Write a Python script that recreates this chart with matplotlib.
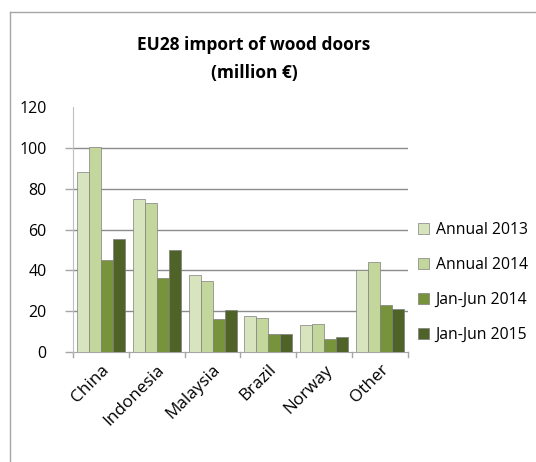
import matplotlib
matplotlib.use("Agg")
import matplotlib.pyplot as plt
from matplotlib.lines import Line2D
from matplotlib.patches import Patch
import numpy as np

categories = ["China", "Indonesia", "Malaysia", "Brazil", "Norway", "Other"]
series_names = ["Annual 2013", "Annual 2014", "Jan-Jun 2014", "Jan-Jun 2015"]
annual_2013 = [88.1, 75.0, 37.9, 17.4, 13.2, 40.3]
annual_2014 = [100.3, 72.8, 34.8, 16.7, 13.5, 44.1]
janjun_2014 = [44.9, 36.1, 16.3, 8.6, 6.2, 22.9]
janjun_2015 = [55.4, 49.8, 20.5, 8.6, 7.3, 21.1]
yticks = [0, 20, 40, 60, 80, 100, 120]
colors = ["#D7E4BD", "#C3D69B", "#77933C", "#4F6228"]

plt.rcParams['font.family'] = ['Open Sans', 'DejaVu Sans']

fig = plt.figure(figsize=(5.36, 4.62), dpi=100)
ax = fig.add_axes([73/536, 1-352/462, (408-73)/536, (352-107)/462])

data = [annual_2013, annual_2014, janjun_2014, janjun_2015]
x = np.arange(len(categories))
w = 0.215
for i, (vals, c, name) in enumerate(zip(data, colors, series_names)):
    ax.bar(x + (i-1.5)*w, vals, width=w, color=c, edgecolor="#7f7f7f",
           linewidth=0.5, label=name, zorder=3)

ax.set_xlim(-0.5, len(categories)-0.5)
ax.set_ylim(0, 120)
ax.set_yticks(yticks)
ax.set_yticklabels([str(t) for t in yticks], fontsize=11.5)
for t in yticks[1:-1]:
    ax.axhline(t, color="#8c8c8c", linewidth=1.0, zorder=1)

ax.set_xticks(x)
ax.set_xticklabels(categories, rotation=45, ha="right", rotation_mode="anchor", fontsize=12.3)
ax.tick_params(axis="x", length=0, pad=7)
for b in np.arange(-0.5, len(categories), 1.0):
    ax.plot([b, b], [0, -2.5], color="#a6a6a6", linewidth=1, clip_on=False, zorder=2)
ax.tick_params(axis="y", length=6, color="#a6a6a6", width=1, pad=13)
ax.yaxis.get_major_ticks()[-1].tick1line.set_visible(False)

for s in ["top", "right"]:
    ax.spines[s].set_visible(False)
ax.spines["left"].set_color("#bfbfbf")
ax.spines["bottom"].set_color("#a6a6a6")
ax.spines["left"].set_zorder(4)

handles = [Patch(facecolor=c, edgecolor="#7f7f7f", linewidth=0.5) for c in colors]
fig.legend(handles, series_names, loc="upper left", bbox_to_anchor=(412/536, 1-216/462),
           frameon=False, fontsize=11.3, handlelength=0.7, handleheight=0.7,
           handletextpad=0.4, labelspacing=1.2, borderaxespad=0)

fig.text(254/536, 1-45/462, "EU28 import of wood doors", ha="center", va="center",
         fontsize=12.5, fontweight="bold")
fig.text(254/536, 1-73/462, "(million €)", ha="center", va="center",
         fontsize=12.5, fontweight="bold")

fig.add_artist(Line2D([10/536, 10/536], [0, 1-12/462], color="#a6a6a6", linewidth=1, transform=fig.transFigure))
fig.add_artist(Line2D([10/536, 1], [1-12/462, 1-12/462], color="#a6a6a6", linewidth=1, transform=fig.transFigure))

fig.savefig("out.png", dpi=100)
